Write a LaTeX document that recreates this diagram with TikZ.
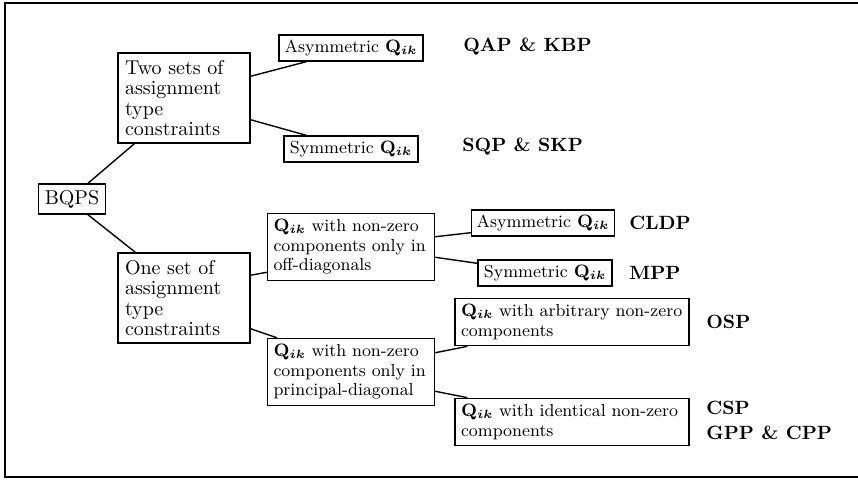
\documentclass[tikz,border=0pt]{standalone}
\usepackage{amsmath}
\usepackage{tikz}
\usetikzlibrary{positioning}
\newcommand{\Qik}{$\mathbf{Q}_{\boldsymbol{ik}}$}
\tikzset{
  bigbox/.style={draw, line width=0.7pt, align=left, text width=59pt, inner xsep=3.5pt, inner ysep=3.5pt, font=\fontsize{10}{10.3}\selectfont},
  midbox/.style={draw, line width=0.7pt, align=left, inner xsep=3pt, inner ysep=3pt, font=\fontsize{8.7}{9.8}\selectfont},
  leafbox/.style={draw, line width=0.7pt, minimum height=13pt, inner sep=2pt, font=\fontsize{8.7}{9.8}\selectfont},
  tag/.style={anchor=west, inner sep=0pt, font=\fontsize{9.6}{11}\selectfont\bfseries},
  link/.style={line width=0.7pt}
}

\begin{document}
\begin{tikzpicture}[x=0.5pt, y=-0.5pt]
      \useasboundingbox (0,0) rectangle (858,479);
      \draw [line width=0.8pt] (858,3) -- (5,3) -- (5,477) -- (858,477);

      \node (bqps) [draw, line width=0.7pt, minimum height=13pt, inner sep=3pt] at (72,199) {BQPS};
      \node (two) [bigbox] at (184,98) {Two sets of\\assignment\\type\\constraints};
      \node (one) [bigbox] at (184,298) {One set of\\assignment\\type\\constraints};

      \node (asym_top) [leafbox, minimum width=72pt] at (351,48) {Asymmetric \Qik};
      \node (sym_top) [leafbox, minimum width=67pt] at (351,149) {Symmetric \Qik};
      \node (offdiag) [midbox, text width=77.5pt] at (351,247) {\Qik{} with non-zero\\components only in\\off-diagonals};
      \node (principal) [midbox, text width=77.5pt] at (351,372) {\Qik{} with non-zero\\components only in\\principal-diagonal};

      \node (asym_low) [leafbox, minimum width=71.5pt] at (543,223) {Asymmetric \Qik};
      \node (sym_low) [leafbox, minimum width=67pt] at (545,273) {Symmetric \Qik};
      \node (arbitrary) [midbox, text width=111pt] at (572,322) {\Qik{} with arbitrary non-zero\\components};
      \node (identical) [midbox, text width=111pt] at (572,422) {\Qik{} with identical non-zero\\components};

      \node (qap) [tag] at (463,47) {QAP \& KBP};
      \node (sqp) [tag] at (462,147) {SQP \& SKP};
      \node (cldp) [tag] at (629,223) {CLDP};
      \node (mpp) [tag] at (629,273) {MPP};
      \node (osp) [tag] at (706,322) {OSP};
      \node (csp) [tag] at (706,408) {CSP};
      \node (gpp) [tag] at (706,433) {GPP \& CPP};

      \draw [link] ([xshift=-9pt]bqps.north east) -- ([xshift=8.5pt]two.south west);
      \draw [link] ([xshift=-9pt]bqps.south east) -- ([xshift=9pt]one.north west);
      \draw [link] ([yshift=-12pt]two.north east) -- ([xshift=14pt]asym_top.south west);
      \draw [link] ([yshift=12pt]two.south east) -- ([xshift=11.5pt]sym_top.north west);
      \draw [link] ([yshift=-11.5pt]one.north east) -- ([yshift=4.5pt]offdiag.south west);
      \draw [link] ([yshift=7.5pt]one.south east) -- ([xshift=5pt]principal.north west);
      \draw [link] ([yshift=-12pt]offdiag.north east) -- ([yshift=2pt]asym_low.south west);
      \draw [link] ([yshift=12pt]offdiag.south east) -- ([yshift=-2pt]sym_low.north west);
      \draw [link] ([yshift=-7.5pt]principal.north east) -- ([xshift=6.5pt]arbitrary.south west);
      \draw [link] ([yshift=7.5pt]principal.south east) -- ([xshift=6.5pt]identical.north west);
\end{tikzpicture}
\end{document}
